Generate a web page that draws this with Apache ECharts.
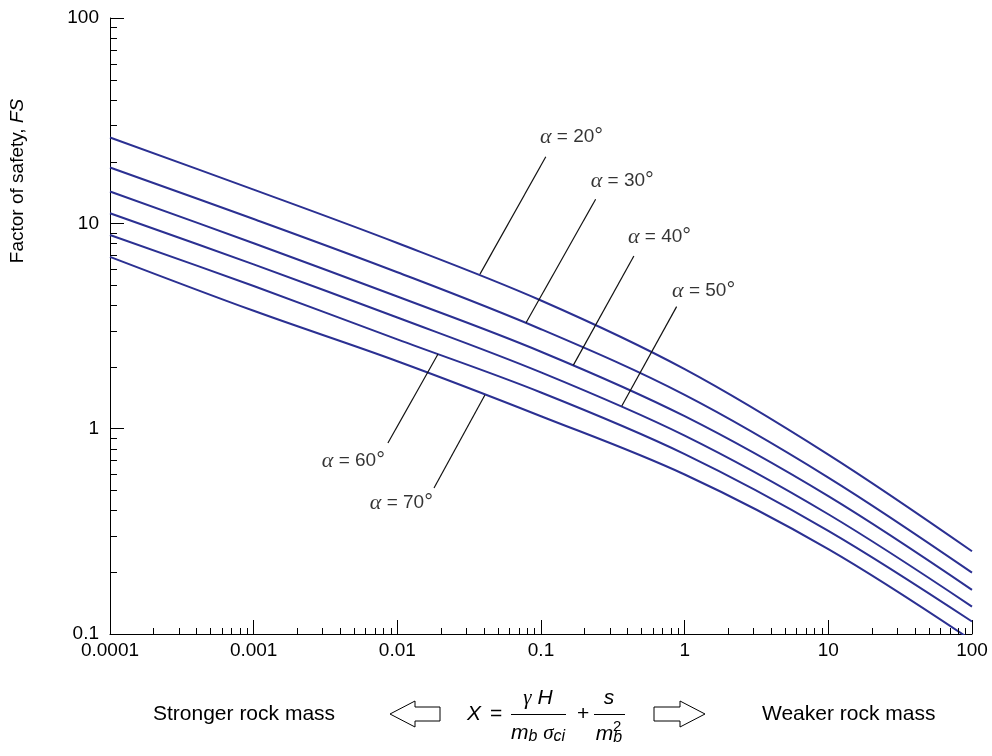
<!DOCTYPE html>
<html>
<head>
<meta charset="utf-8">
<script src="https://cdn.jsdelivr.net/npm/echarts@6/dist/echarts.min.js"></script>
<style>
html,body{margin:0;padding:0;background:#fff;}
#chart{width:992px;height:756px;}
</style>
</head>
<body>
<div id="chart"></div>
<script>
// ---- data ----
const xValues = [0.0001, 0.001, 0.01, 0.1, 1, 10, 100];
const fsAlpha20 = [26.2, 14.6, 8.02, 4.21, 1.95, 0.748, 0.253];
const fsAlpha30 = [18.7, 10.5, 5.78, 3.05, 1.46, 0.578, 0.199];
const fsAlpha40 = [14.3, 8.0, 4.40, 2.37, 1.15, 0.469, 0.164];
const fsAlpha50 = [11.2, 6.31, 3.48, 1.88, 0.925, 0.383, 0.136];
const fsAlpha60 = [8.77, 4.95, 2.72, 1.50, 0.752, 0.318, 0.115];
const fsAlpha70 = [6.87, 3.75, 2.13, 1.15, 0.598, 0.259, 0.093];
const seriesNames = ['20', '30', '40', '50', '60', '70'];

const xTickLabels = ['0.0001', '0.001', '0.01', '0.1', '1', '10', '100'];
const yTickLabels = ['0.1', '1', '10', '100'];

// annotation anchors (data coordinates)
const labelAnchors = [[0.0984, 26.3], [0.222, 16.1], [0.403, 8.58], [0.817, 4.68], [0.0082, 0.695], [0.0177, 0.434]];
const labelSides = ['right', 'right', 'right', 'right', 'left', 'left'];
const leaderFrom = [[0.108, 21.1], [0.240, 13.1], [0.443, 6.93], [0.879, 3.93], [0.0086, 0.851], [0.0180, 0.514]];
const leaderTo = [[0.0376, 5.66], [0.0787, 3.28], [0.168, 2.04], [0.365, 1.29], [0.0192, 2.31], [0.0407, 1.46]];

// ---- axis helpers ----
const X_MIN = 0.0001, X_MAX = 100, Y_MIN = 0.1, Y_MAX = 100;
function minorTicks(minExp, maxExp) {
  const out = [];
  for (let e = minExp; e < maxExp; e++) {
    for (let k = 2; k <= 9; k++) out.push(k * Math.pow(10, e));
  }
  return out;
}
const xMinor = minorTicks(-4, 2);
const yMinor = minorTicks(-1, 2);

const allSeries = [fsAlpha20, fsAlpha30, fsAlpha40, fsAlpha50, fsAlpha60, fsAlpha70];
const LINE_COLOR = '#2b3092';
const FONT = 'Liberation Sans, Arial, sans-serif';

const series = allSeries.map((vals, i) => ({
  name: 'α = ' + seriesNames[i] + '°',
  type: 'line',
  data: xValues.map((x, j) => [x, vals[j]]),
  showSymbol: false,
  smooth: 0.35,
  lineStyle: { color: LINE_COLOR, width: 2 },
  itemStyle: { color: LINE_COLOR },
  silent: true,
  z: 3
}));

// leader lines
series.push({
  type: 'line',
  data: [],
  silent: true,
  markLine: {
    silent: true,
    symbol: ['none', 'none'],
    label: { show: false },
    lineStyle: { color: '#111', width: 1.2, type: 'solid' },
    emphasis: { disabled: true },
    data: leaderFrom.map((p, i) => [{ coord: p }, { coord: leaderTo[i] }])
  }
});

// labels
series.push({
  type: 'scatter',
  symbolSize: 0,
  silent: true,
  data: labelAnchors.map((p, i) => ({
    value: p,
    label: {
      show: true,
      position: labelSides[i],
      distance: 0,
      formatter: '{a|α} = ' + seriesNames[i] + '{d|°}',
      color: '#000',
      fontSize: 19,
      fontFamily: FONT,
      rich: {
        a: { fontStyle: 'italic', fontFamily: 'Liberation Serif, serif', fontSize: 22, color: '#000' },
        d: { fontSize: 22, fontFamily: FONT, color: '#000' }
      }
    }
  }))
});

// minor ticks
series.push({
  type: 'custom',
  silent: true,
  clip: false,
  z: 10,
  renderItem: function (params, api) {
    const p = api.coord([api.value(0), api.value(1)]);
    const x = Math.round(p[0]) + 0.5;
    return { type: 'line', shape: { x1: x, y1: p[1], x2: x, y2: p[1] - 6 }, style: { stroke: '#000', lineWidth: 1 } };
  },
  data: xMinor.map(v => [v, Y_MIN])
});
series.push({
  type: 'custom',
  silent: true,
  clip: false,
  z: 10,
  renderItem: function (params, api) {
    const p = api.coord([api.value(0), api.value(1)]);
    const y = Math.round(p[1]) + 0.5;
    return { type: 'line', shape: { x1: p[0], y1: y, x2: p[0] + 7, y2: y }, style: { stroke: '#000', lineWidth: 1 } };
  },
  data: yMinor.map(v => [X_MIN, v])
});

function labelFor(list, minExp) {
  return function (v) {
    const idx = Math.round(Math.log10(v)) - minExp;
    return list[idx] !== undefined ? list[idx] : '';
  };
}

// bottom formula graphics
const BY = 714;
const txt = (x, y, text, opts) => Object.assign({
  type: 'text', x: x, y: y, silent: true,
  style: Object.assign({ text: text, fill: '#000', font: '21px ' + FONT, align: 'left', verticalAlign: 'middle' }, opts || {})
});
function arrow(points) {
  return { type: 'polygon', silent: true, shape: { points: points }, style: { fill: '#fff', stroke: '#000', lineWidth: 1 } };
}
const graphics = [
  {
    type: 'text', x: 18, y: 181, rotation: Math.PI / 2, silent: true,
    style: {
      text: 'Factor of safety, {i|FS}', fill: '#000', font: '19px ' + FONT, align: 'center', verticalAlign: 'middle',
      rich: { i: { fontStyle: 'italic', fontSize: 19, fontFamily: FONT } }
    }
  },
  txt(153, BY, 'Stronger rock mass'),
  txt(762, BY, 'Weaker rock mass'),
  arrow([[390, BY], [415, BY - 13], [415, BY - 7], [440, BY - 7], [440, BY + 7], [415, BY + 7], [415, BY + 13]]),
  arrow([[705, BY], [680, BY - 13], [680, BY - 7], [654, BY - 7], [654, BY + 7], [680, BY + 7], [680, BY + 13]]),
  txt(467, BY, 'X', { font: 'italic 21px ' + FONT }),
  txt(490, BY, '='),
  { type: 'line', silent: true, shape: { x1: 511, y1: BY + 0.5, x2: 566, y2: BY + 0.5 }, style: { stroke: '#000', lineWidth: 1 } },
  txt(538, BY - 16, '{g|γ} {i|H}', { align: 'center', rich: { g: { fontStyle: 'italic', fontFamily: 'Liberation Serif, serif', fontSize: 21 }, i: { fontStyle: 'italic', fontSize: 21, fontFamily: FONT } } }),
  txt(538, BY + 19, '{i|m}{sub|b} {g|σ}{sub|ci}', { align: 'center', rich: {
    i: { fontStyle: 'italic', fontSize: 21, fontFamily: FONT },
    g: { fontStyle: 'italic', fontFamily: 'Liberation Serif, serif', fontSize: 21 },
    sub: { fontStyle: 'italic', fontSize: 16, fontFamily: FONT, padding: [8, 0, 0, 0] }
  } }),
  txt(577, BY, '+'),
  { type: 'line', silent: true, shape: { x1: 594, y1: BY + 0.5, x2: 625, y2: BY + 0.5 }, style: { stroke: '#000', lineWidth: 1 } },
  txt(609, BY - 16, 's', { align: 'center', font: 'italic 21px ' + FONT }),
  txt(609, BY + 20, '{i|m}{sub|b}', { align: 'center', rich: {
    i: { fontStyle: 'italic', fontSize: 21, fontFamily: FONT },
    sub: { fontStyle: 'italic', fontSize: 16, fontFamily: FONT, padding: [8, 0, 0, 0] }
  } }),
  txt(613, BY + 13, '2', { font: '15px ' + FONT })
];

const chart = echarts.init(document.getElementById('chart'), null, { renderer: 'canvas' });
chart.setOption({
  animation: false,
  backgroundColor: '#fff',
  grid: { left: 110, right: 20, top: 18, bottom: 122, containLabel: false },
  xAxis: {
    type: 'log', logBase: 10, min: X_MIN, max: X_MAX,
    axisLine: { show: true, lineStyle: { color: '#000', width: 1 } },
    axisTick: { show: true, inside: true, length: 14, lineStyle: { color: '#000', width: 1 } },
    minorTick: { show: false },
    splitLine: { show: false },
    axisLabel: { color: '#000', fontSize: 19, fontFamily: FONT, margin: 7, formatter: labelFor(xTickLabels, -4) }
  },
  yAxis: {
    type: 'log', logBase: 10, min: Y_MIN, max: Y_MAX,
    axisLine: { show: true, lineStyle: { color: '#000', width: 1 } },
    axisTick: { show: true, inside: true, length: 14, lineStyle: { color: '#000', width: 1 } },
    minorTick: { show: false },
    splitLine: { show: false },
    axisLabel: { color: '#000', fontSize: 19, fontFamily: FONT, margin: 11, formatter: labelFor(yTickLabels, -1) }
  },
  series: series,
  graphic: graphics
});
</script>
</body>
</html>
